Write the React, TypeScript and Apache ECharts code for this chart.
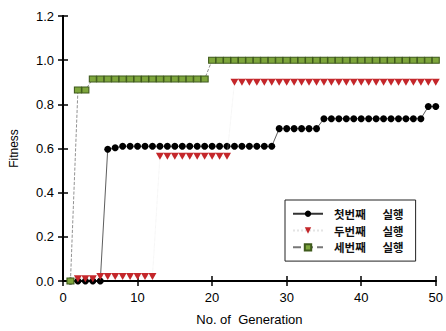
import React, { useEffect, useRef } from "react";
import * as echarts from "echarts";

const generations = [1,2,3,4,5,6,7,8,9,10,11,12,13,14,15,16,17,18,19,20,21,22,23,24,25,26,27,28,29,30,31,32,33,34,35,36,37,38,39,40,41,42,43,44,45,46,47,48,49,50];

const run1 = [
  0, 0, 0, 0, 0,
  0.597, 0.603,
  0.61, 0.61, 0.61, 0.61, 0.61, 0.61, 0.61, 0.61, 0.61, 0.61, 0.61, 0.61, 0.61, 0.61, 0.61, 0.61, 0.61, 0.61, 0.61, 0.61, 0.61,
  0.69, 0.69, 0.69, 0.69, 0.69, 0.69,
  0.735, 0.735, 0.735, 0.735, 0.735, 0.735, 0.735, 0.735, 0.735, 0.735, 0.735, 0.735, 0.735, 0.735,
  0.79, 0.79,
];

const run2 = [
  null,
  0.01, 0.01, 0.01,
  0.02, 0.02, 0.02, 0.02, 0.02, 0.02, 0.02, 0.02,
  0.565, 0.565, 0.565, 0.565, 0.565, 0.565, 0.565, 0.565, 0.565, 0.565,
  0.9, 0.9, 0.9, 0.9, 0.9, 0.9, 0.9, 0.9, 0.9, 0.9, 0.9, 0.9, 0.9, 0.9, 0.9, 0.9, 0.9, 0.9, 0.9, 0.9, 0.9, 0.9, 0.9, 0.9, 0.9, 0.9, 0.9, 0.9,
];

const run3 = [
  0,
  0.865, 0.865,
  0.915, 0.915, 0.915, 0.915, 0.915, 0.915, 0.915, 0.915, 0.915, 0.915, 0.915, 0.915, 0.915, 0.915, 0.915, 0.915,
  1.0, 1.0, 1.0, 1.0, 1.0, 1.0, 1.0, 1.0, 1.0, 1.0, 1.0, 1.0, 1.0, 1.0, 1.0, 1.0, 1.0, 1.0, 1.0, 1.0, 1.0, 1.0, 1.0, 1.0, 1.0, 1.0, 1.0, 1.0, 1.0, 1.0, 1.0,
];

const seriesNames = ["첫번째\u3000  실행", "두번째\u3000  실행", "세번째\u3000  실행"];

const pairs = (vals: (number | null)[]) =>
  generations.map((g, i) => [g, vals[i]]).filter((p) => p[1] !== null);

export default function App() {
  const ref = useRef<HTMLDivElement>(null);
  useEffect(() => {
    const chart = echarts.init(ref.current!, null, { renderer: "svg" });
    const axisLine = { show: true, lineStyle: { color: "#000", width: 2 } };
    const tick = { show: true, inside: true, length: 5, lineStyle: { color: "#000", width: 1.5 } };
    const labelFont = { color: "#000", fontSize: 12, fontFamily: "Liberation Sans, Arial, sans-serif" };
    chart.setOption({
      animation: false,
      backgroundColor: "#fff",
      grid: { left: 60, right: 5, top: 16, bottom: 50 },
      xAxis: [
        {
          type: "value", min: 0, max: 50, interval: 10, position: "bottom",
          axisLine, axisTick: tick,
          axisLabel: { ...labelFont, fontSize: 13, margin: 10 },
          splitLine: { show: false },
          name: "No. of  Generation", nameLocation: "middle", nameGap: 32,
          nameTextStyle: { ...labelFont, fontSize: 13 },
        },
        {
          type: "value", min: 0, max: 50, interval: 10, position: "top",
          axisLine, axisTick: tick,
          axisLabel: { show: false }, splitLine: { show: false },
        },
      ],
      yAxis: [
        {
          type: "value", min: 0, max: 1.2, interval: 0.2, position: "left",
          axisLine, axisTick: tick,
          axisLabel: { ...labelFont, fontSize: 13, margin: 9, formatter: (v: number) => v.toFixed(1) },
          splitLine: { show: false },
          name: "Fitness", nameLocation: "middle", nameGap: 43, nameRotate: 90,
          nameTextStyle: { ...labelFont, fontSize: 12 },
        },
        {
          type: "value", min: 0, max: 1.2, interval: 0.2, position: "right",
          axisLine, axisTick: tick,
          axisLabel: { show: false }, splitLine: { show: false },
        },
      ],
      legend: {
        orient: "vertical", left: 285, top: 200,
        backgroundColor: "#fff",
        borderColor: "#222", borderWidth: 1, borderRadius: 0,
        padding: [8, 12, 8, 7],
        itemWidth: 30, itemHeight: 8, itemGap: 5.3,
        textStyle: { color: "#111", fontSize: 11.5, lineHeight: 11.5, fontWeight: "bold", fontFamily: "Noto Sans CJK KR", padding: [0, 0, 0, 6] },
        data: seriesNames,
      },
      series: [
        {
          name: seriesNames[0], type: "line", data: pairs(run1), z: 3,
          symbol: "circle", symbolSize: 7,
          itemStyle: { color: "#000" },
          lineStyle: { color: "#333", width: 0.8 },
        },
        {
          name: seriesNames[1], type: "line", data: pairs(run2), z: 4,
          symbol: "triangle", symbolRotate: 180, symbolSize: [8, 7],
          itemStyle: { color: "#c4262a" },
          lineStyle: { color: "#e4e4e4", width: 0.6, type: "dotted" },
        },
        {
          name: seriesNames[2], type: "line", data: pairs(run3), z: 5,
          symbol: "rect", symbolSize: [7, 6],
          itemStyle: { color: "#7ea63c", borderColor: "#3f5a1c", borderWidth: 1 },
          lineStyle: { color: "#777", width: 0.8, type: "dashed" },
        },
      ],
    });
    return () => chart.dispose();
  }, []);
  return <div ref={ref} style={{ width: 446, height: 331, position: "absolute", left: 0, top: 0 }} />;
}
